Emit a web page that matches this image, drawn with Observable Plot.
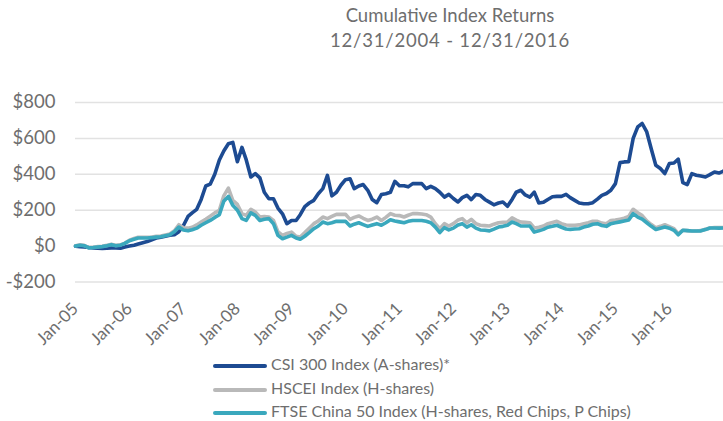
<!DOCTYPE html>
<html>
<head>
<meta charset="utf-8">
<script src="https://cdn.jsdelivr.net/npm/d3@7"></script>
<script src="https://cdn.jsdelivr.net/npm/@observablehq/plot@0.6"></script>
<style>
  html, body { margin: 0; padding: 0; background: #fff; }
  body { width: 723px; height: 421px; position: relative; overflow: hidden; font-family: Lato, "Open Sans", sans-serif; color: #6e6e6e; }
  #title { position: absolute; left: 250px; width: 400px; top: 3px; text-align: center; font-size: 18.5px; line-height: 25px; color: #6e6e6e; }
  #title .d { letter-spacing: 0.8px; }
  #chart { position: absolute; left: 0; top: 0; }
  .leg { position: absolute; left: 213px; font-size: 16px; color: #6e6e6e; height: 20px; line-height: 20px; white-space: nowrap; }
  .leg span.sw { display: inline-block; width: 54px; height: 3.5px; vertical-align: middle; margin-right: 4px; border-radius: 2px; }
</style>
</head>
<body>
<div id="title">Cumulative Index Returns<br><span class="d">12/31/2004 - 12/31/2016</span></div>
<div id="chart"></div>
<div id="legend"></div>
<script>
// Monthly values, Dec 2004 (index 0) through Dec 2016 (index 144)
const seriesNames = ["CSI 300 Index (A-shares)*", "HSCEI Index (H-shares)", "FTSE China 50 Index (H-shares, Red Chips, P Chips)"];
const seriesColors = ["#1d4b92", "#b9b9b9", "#3aa8bd"];

const csi300 = [
  0, -3, -5, -8, -10, -12, -13, -12, -10, -10, -12, -5,
  0, 5, 12, 19, 25, 35, 45, 50, 55, 60, 63, 80,
  115, 165, 185, 205, 260, 335, 345, 400, 480, 530, 570, 578,
  470, 550, 480, 385, 404, 380, 300, 264, 264, 212, 180, 125,
  143, 143, 175, 220, 240, 255, 292, 320, 394, 280, 300, 339,
  370, 375, 320, 335, 343, 311, 260, 242, 287, 292, 300, 361,
  336, 336, 330, 348, 348, 348, 320, 333, 320, 300, 273, 288,
  265, 246, 270, 283, 259, 287, 283, 260, 245, 230, 240, 246,
  222, 260, 300, 311, 285, 273, 301, 240, 244, 260, 275, 277,
  277, 288, 270, 255, 240, 236, 236, 242, 262, 283, 293, 311,
  348, 465, 469, 470, 600, 664, 683, 636, 540, 450, 432, 404,
  460, 463, 484, 354, 343, 404, 395, 390, 385, 398, 413, 407,
  418, 440
];

const hscei = [
  2, 7, 4, -8, -6, -3, -1, 4, 10, 4, 7, 17,
  33, 42, 49, 49, 49, 51, 54, 56, 62, 67, 85, 119,
  102, 100, 105, 118, 134, 150, 167, 185, 199, 280, 323, 255,
  232, 181, 171, 205, 190, 162, 165, 162, 143, 80, 60, 70,
  78, 55, 51, 75, 100, 125, 140, 162, 153, 165, 177, 177,
  177, 149, 160, 168, 155, 143, 150, 162, 143, 160, 181, 172,
  170, 162, 172, 181, 181, 179, 175, 162, 125, 97, 125, 112,
  125, 145, 153, 130, 149, 125, 116, 114, 112, 122, 130, 132,
  134, 157, 145, 134, 132, 130, 101, 105, 112, 125, 132, 138,
  125, 118, 116, 116, 118, 125, 130, 138, 138, 128, 125, 143,
  145, 150, 155, 165, 205, 186, 170, 140, 120, 103, 110, 119,
  108, 97, 69, 88, 86, 84, 84, 86, 94, 101, 103, 103,
  103
];

const ftse50 = [
  0, 5, 2, -10, -8, -5, -3, 2, 8, 2, 5, 15,
  30, 38, 45, 45, 45, 47, 50, 52, 58, 63, 80, 106,
  90, 85, 91, 100, 116, 130, 143, 160, 175, 250, 277, 227,
  200, 153, 143, 185, 171, 143, 150, 153, 125, 60, 41, 50,
  60, 45, 38, 55, 75, 97, 112, 134, 125, 130, 138, 138,
  138, 112, 122, 130, 120, 110, 118, 125, 116, 130, 147, 140,
  135, 130, 138, 143, 143, 143, 138, 130, 106, 75, 103, 90,
  100, 118, 125, 106, 119, 100, 90, 88, 85, 95, 106, 110,
  116, 134, 125, 112, 112, 112, 78, 85, 93, 105, 110, 116,
  105, 95, 93, 95, 97, 106, 112, 122, 125, 115, 110, 125,
  130, 135, 140, 145, 181, 162, 150, 130, 110, 93, 100, 106,
  100, 88, 63, 88, 86, 84, 84, 85, 92, 101, 101, 100,
  101
];

const tickLabels = ["Jan-05","Jan-06","Jan-07","Jan-08","Jan-09","Jan-10","Jan-11","Jan-12","Jan-13","Jan-14","Jan-15","Jan-16"];
const yTicks = [-200, 0, 200, 400, 600, 800];

const monthEnd = i => new Date(Date.UTC(2005, i, 0));
const allSeries = [csi300, hscei, ftse50];
const rows = [];
allSeries.forEach((vals, s) => vals.forEach((v, i) => rows.push({series: seriesNames[s], date: monthEnd(i), value: v})));
const tickDates = tickLabels.map((_, k) => monthEnd(k * 12));
const labelOf = new Map(tickDates.map((d, k) => [+d, tickLabels[k]]));

const chart = Plot.plot({
  width: 723,
  height: 421,
  marginLeft: 75,
  marginRight: 0,
  marginTop: 102,
  marginBottom: 139.5,
  style: {fontFamily: "Lato, 'Open Sans', sans-serif", color: "#6e6e6e", background: "transparent"},
  x: {type: "utc", domain: [monthEnd(0), monthEnd(144)]},
  y: {domain: [-200, 800]},
  color: {domain: seriesNames, range: seriesColors},
  marks: [
    Plot.ruleY(yTicks, {stroke: "#e2e2e2", strokeWidth: 1.5}),
    Plot.axisY(yTicks, {tickSize: 0, tickPadding: 20, fontSize: 18.5, label: null,
      tickFormat: d => (d < 0 ? "-$" : "$") + Math.abs(d)}),
    Plot.axisX(tickDates, {tickSize: 0, tickPadding: 24, tickRotate: -45, fontSize: 17, label: null,
      tickFormat: d => labelOf.get(+d)}),
    Plot.lineY(rows, {x: "date", y: "value", z: "series", stroke: "series", strokeWidth: 3.6, strokeLinejoin: "round", strokeLinecap: "round"})
  ]
});
document.getElementById("chart").appendChild(chart);

const leg = document.getElementById("legend");
const legTops = [354, 378, 401];
seriesNames.forEach((name, k) => {
  const d = document.createElement("div");
  d.className = "leg";
  d.style.top = legTops[k] + "px";
  d.innerHTML = `<span class="sw" style="background:${seriesColors[k]}"></span>${name}`;
  leg.appendChild(d);
});
</script>
</body>
</html>
